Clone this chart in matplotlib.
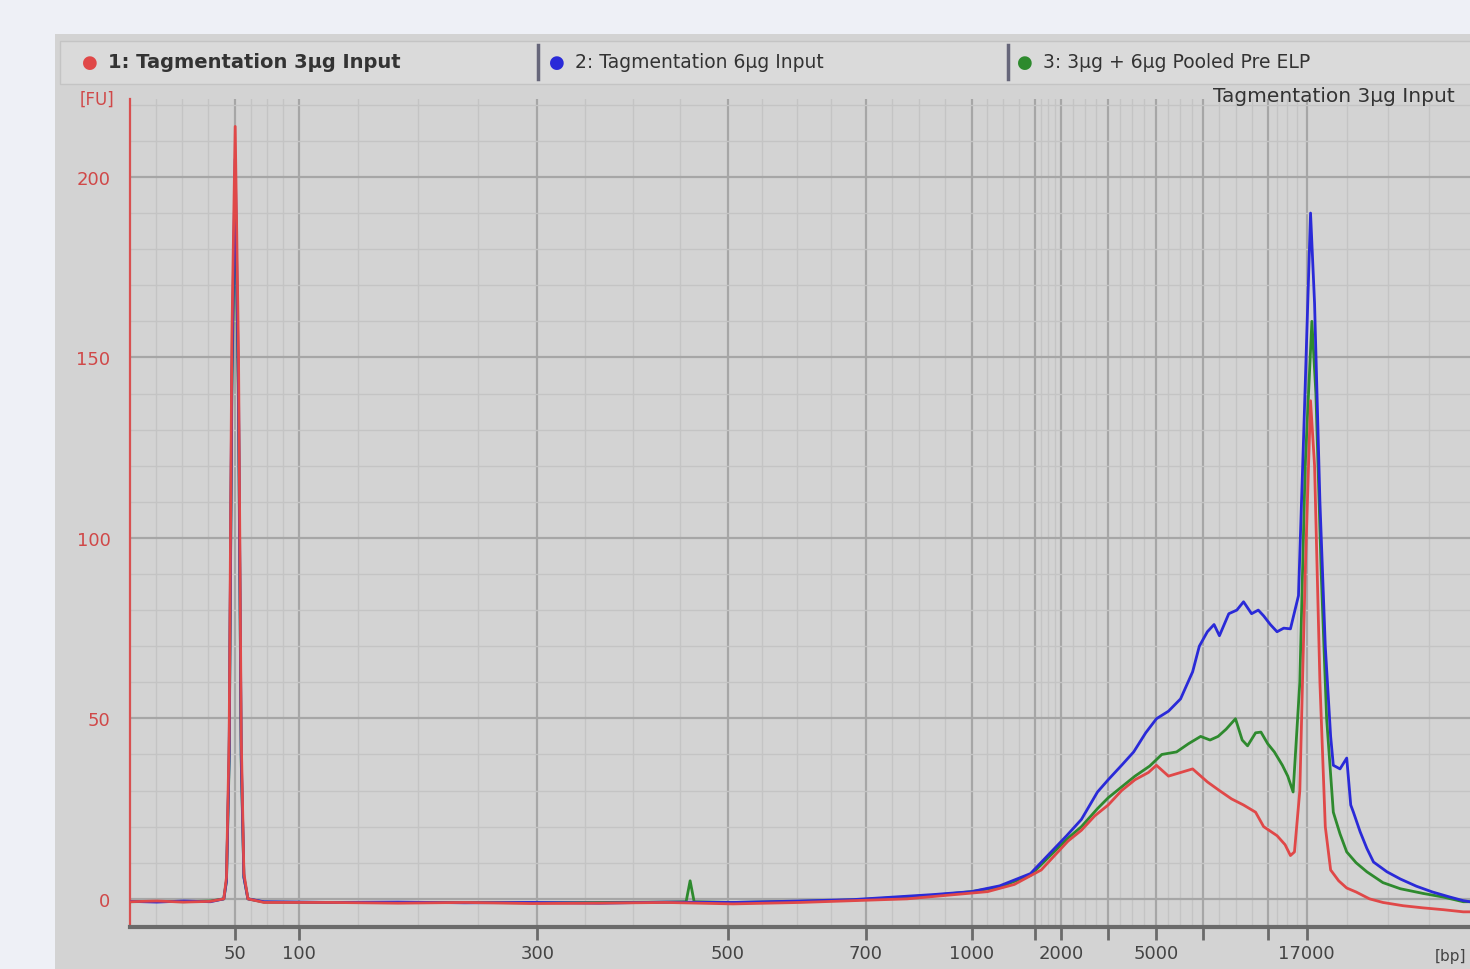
import matplotlib
matplotlib.use('Agg')
import matplotlib.pyplot as plt
import numpy as np
from matplotlib.patches import Rectangle

# ── Ladder calibration: migration time (s) vs. size (bp) ─────────────────────
ladder_time = [27.8, 32.6, 50.4, 64.6, 74.9, 82.8, 87.5, 89.5, 93.0, 96.6, 100.1, 104.9, 107.8]
ladder_labels = ['50', '100', '300', '500', '700', '1000', '', '2000', '', '5000', '', '', '17000']

# ── Sample traces (time s, fluorescence FU) ──────────────────────────────────
red_t = [20, 22, 24, 26, 27.0, 27.2, 27.4, 27.6, 27.85, 28.1, 28.3, 28.5, 28.8, 30, 35, 40, 45,
         50, 55, 60, 65, 70, 74, 78, 81, 84, 86, 88, 89, 90, 91, 92, 93, 94, 95, 96, 96.6, 97.5,
         98.4, 99.3, 100.4, 101.3, 102.2, 103.1, 104.0, 104.6, 105.2, 105.6, 106.2, 106.6, 106.9,
         107.3, 107.7, 108.1, 108.4, 108.8, 109.2, 109.6, 110.2, 110.8, 111.5, 112.5, 113.5, 115,
         116.5, 118, 119.5, 120]
red_fu = [-0.8, -0.6, -0.9, -0.7, 0, 6, 45, 155, 214, 150, 45, 7, 0, -1, -1, -1.2, -1,
          -1.3, -1.2, -1, -1.4, -1, -0.5, 0, 1, 2, 4, 8, 12, 16, 19, 23, 26, 30, 33, 35, 37, 34,
          35, 36, 32.4, 30, 27.7, 26, 24, 20, 18.5, 17.5, 15, 12, 13,
          30, 90, 138, 120, 60, 20, 8, 5, 3, 1.9, 0, -1, -1.9,
          -2.5, -3, -3.6, -3.6]

blue_t = [20, 22, 24, 26, 27.0, 27.2, 27.4, 27.6, 27.85, 28.1, 28.3, 28.5, 28.8, 30, 35, 40, 45,
          50, 55, 60, 65, 70, 74, 77, 80, 82.8, 84.9, 87.2, 89.9, 91, 92.2, 93, 94, 94.9, 95.8,
          96.6, 97.5, 98.4, 99.3, 99.8, 100.4, 100.9, 101.3, 102, 102.6, 103.1, 103.7, 104.2,
          104.6, 105.1, 105.6, 106.1, 106.6, 107.2, 107.6, 108.1, 108.4, 108.8, 109.2, 109.6,
          109.8, 110.3, 110.8, 111.1, 111.3, 111.8, 112.3, 112.8, 113.8, 114.8, 116, 117.2,
          118.5, 119.5, 120]
blue_fu = [-0.7, -0.9, -0.6, -0.8, 0, 5, 40, 145, 205, 140, 40, 6, 0, -0.8, -1, -0.9, -1.1,
           -1, -1.2, -0.9, -1, -0.6, -0.2, 0.5, 1.2, 2, 3.6, 7, 17.5, 22, 29.6, 33, 37, 40.7, 46,
           49.9, 52, 55.4, 62.9, 70, 74, 76, 72.9, 79, 80, 82.3, 79, 80,
           78.4, 76, 74, 75, 74.8, 84, 130, 190, 165, 110, 70, 45,
           37, 36, 39, 26, 24, 18.6, 14, 10.2, 7.5, 5.5, 3.5, 1.9,
           0.5, -0.5, -0.8]

green_t = [20, 22, 24, 26, 27.0, 27.2, 27.4, 27.6, 27.85, 28.1, 28.3, 28.5, 28.8, 30, 35, 40, 45,
           50, 55, 60, 61.5, 61.8, 62.1, 65, 70, 74, 77, 80, 82.8, 84.9, 87.2, 89.9, 91, 92.2, 93,
           94, 95, 96.1, 97.0, 98.1, 99.0, 99.9, 100.6, 101.2, 101.8, 102.5, 103.0, 103.4, 104.0,
           104.4, 104.9, 105.4, 106.0, 106.4, 106.8, 107.3, 107.7, 108.2, 108.5, 108.9, 109.3,
           109.8, 110.3, 110.8, 111.5, 112.3, 113.5, 114.8, 116.5, 118, 119.5, 120]
green_fu = [-0.8, -0.7, -0.8, -0.6, 0, 5, 38, 140, 200, 135, 38, 6, 0, -0.9, -1, -1, -1,
            -1.1, -1, -0.9, -0.8, 5, -0.8, -1, -0.7, -0.3, 0.3, 1, 2, 3.3, 6.5, 16.5, 20, 25, 28,
            31, 34, 36.8, 40, 40.7, 43, 45, 44, 45, 47, 49.9, 44, 42.4, 46,
            46.2, 43, 40.7, 37, 34, 29.6, 60, 120, 160, 140, 90, 50,
            24, 18, 13, 10, 7.5, 4.5, 2.8, 1.5, 0.5, -0.8, -0.8]

legend_labels = ['1: Tagmentation 3µg Input', '2: Tagmentation 6µg Input', '3: 3µg + 6µg Pooled Pre ELP']
title = 'Tagmentation 3µg Input'
y_ticks = [0, 50, 100, 150, 200]

C_RED, C_BLUE, C_GREEN = '#e04848', '#2a2ad8', '#2e8a2e'
PANEL = '#d3d3d3'

fig = plt.figure(figsize=(14.7, 9.7), dpi=100, facecolor='#eef0f6')

# ── Panel background and legend strip ────────────────────────────────────────
fig.patches.append(Rectangle((55 / 1470, 0), 1, 935 / 970, transform=fig.transFigure,
                             facecolor=PANEL, edgecolor='none', zorder=-2))
fig.patches.append(Rectangle((60 / 1470, 885 / 970), 1, 43 / 970, transform=fig.transFigure,
                             facecolor='#dadada', edgecolor='#c4c4c4', lw=1, zorder=-1))

ax = fig.add_axes([130 / 1470, 42 / 970, 1 - 130 / 1470, 828 / 970], zorder=1)
ax.set_facecolor(PANEL)

ax.plot(green_t, green_fu, color=C_GREEN, lw=2.0, zorder=3)
ax.plot(blue_t, blue_fu, color=C_BLUE, lw=2.0, zorder=4)
ax.plot(red_t, red_fu, color=C_RED, lw=2.0, zorder=5)

ax.set_xlim(20, 120)
ax.set_ylim(-7.8, 221.6)

# ── Grid ──────────────────────────────────────────────────────────────────────
minor_x = []
edges = [20] + ladder_time + [120]
for a, b in zip(edges[:-1], edges[1:]):
    minor_x.extend(np.linspace(a, b, 5)[1:-1])
ax.set_xticks(ladder_time)
ax.set_xticklabels(ladder_labels)
ax.set_xticks(minor_x, minor=True)
ax.set_yticks(y_ticks)
ax.set_yticks(np.arange(0, 221, 10), minor=True)
ax.grid(which='major', color='#a6a6a6', lw=1.6, zorder=1)
ax.grid(which='minor', color='#c4c4c4', lw=1.0, zorder=1)
ax.set_axisbelow(True)

for s in ('top', 'right'):
    ax.spines[s].set_visible(False)
ax.spines['left'].set_color('#d85050')
ax.spines['left'].set_linewidth(1.6)
ax.spines['bottom'].set_color('#6a6a6a')
ax.spines['bottom'].set_linewidth(3)

ax.tick_params(axis='x', which='major', direction='out', length=9, width=2, color='#6a6a6a',
               labelsize=13, labelcolor='#444444', pad=3)
ax.tick_params(axis='x', which='minor', length=0)
ax.tick_params(axis='y', which='major', length=0, labelsize=13, labelcolor='#d04848', pad=14)
ax.tick_params(axis='y', which='minor', length=0)

# ── Texts ────────────────────────────────────────────────────────────────────
fig.text(97 / 1470, 1 - 100 / 970, '[FU]', color='#d04848', fontsize=12, ha='center', va='center')
fig.text(1466 / 1470, 1 - 957 / 970, '[bp]', color='#444444', fontsize=11, ha='right', va='center')
fig.text(1455 / 1470, 1 - 97 / 970, title, color='#333333', fontsize=14.5, ha='right', va='center')

legend_x = [90, 557, 1025]
legend_size = [14, 13.5, 13.5]
sep_x = [538, 1008]
colors = [C_RED, C_BLUE, C_GREEN]
for i, (lab, col) in enumerate(zip(legend_labels, colors)):
    x0 = legend_x[i] / 1470
    fig.text(x0, 1 - 63 / 970, '●', color=col, fontsize=13, ha='center', va='center')
    fig.text(x0 + 18 / 1470, 1 - 63 / 970, lab, color='#333333', fontsize=legend_size[i],
             fontweight='bold' if i == 0 else 'normal', ha='left', va='center')
for sx in sep_x:
    fig.add_artist(plt.Line2D([sx / 1470, sx / 1470], [1 - 80 / 970, 1 - 46 / 970],
                              transform=fig.transFigure, color='#66667a', lw=2.5))

fig.savefig('out.png', dpi=100, facecolor=fig.get_facecolor())
